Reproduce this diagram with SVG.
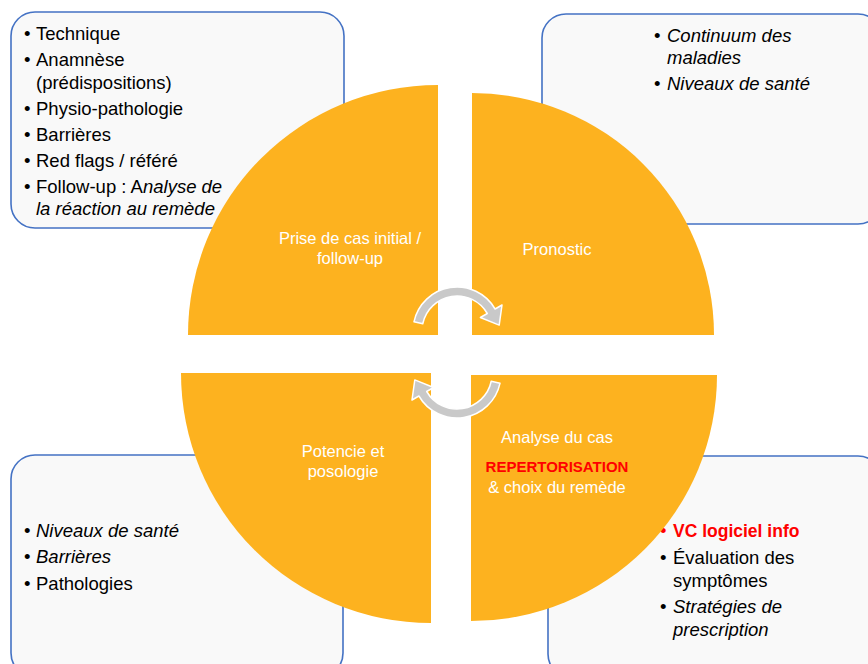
<svg xmlns="http://www.w3.org/2000/svg" width="868" height="664" viewBox="0 0 868 664">
<style>
.box{fill:#F9F9F9;stroke:#4472C4;stroke-width:1.6}
.bt{font-family:"Liberation Sans",Arial,sans-serif;font-size:18.5px;fill:#000}
.it{font-style:italic}
.q{fill:#FDB21F}
.qt{font-family:"Liberation Sans",Arial,sans-serif;font-size:16.5px;fill:#FFFFFF;text-anchor:middle}
.arr{fill:#C9C9C9;stroke:#FFFFFF;stroke-width:1.5;stroke-linejoin:round}
</style>
<rect width="868" height="664" fill="#FFFFFF"/>

<g id="box-tl">
<rect class="box" x="11" y="12" width="333" height="216" rx="24"/>
<text class="bt" x="24" y="39.5">•</text><text class="bt" x="36" y="39.5">Technique</text>
<text class="bt" x="24" y="66">•</text><text class="bt" x="36" y="66">Anamnèse</text>
<text class="bt" x="36" y="88.5">(prédispositions)</text>
<text class="bt" x="24" y="114.5">•</text><text class="bt" x="36" y="114.5">Physio-pathologie</text>
<text class="bt" x="24" y="140.5">•</text><text class="bt" x="36" y="140.5">Barrières</text>
<text class="bt" x="24" y="166.5">•</text><text class="bt" x="36" y="166.5">Red flags / référé</text>
<text class="bt" x="24" y="192.5">•</text><text class="bt" x="36" y="192.5">Follow-up : A<tspan class="it">nalyse de</tspan></text>
<text class="bt it" x="36" y="215">la réaction au remède</text>
</g>

<g id="box-tr">
<rect class="box" x="542" y="14" width="340" height="210" rx="24"/>
<text class="bt" x="654" y="42">•</text><text class="bt it" x="667" y="42">Continuum des</text>
<text class="bt it" x="667" y="64">maladies</text>
<text class="bt" x="654" y="90">•</text><text class="bt it" x="667" y="90">Niveaux de santé</text>
</g>

<g id="box-bl">
<rect class="box" x="11" y="455" width="332" height="222" rx="24"/>
<text class="bt" x="24" y="537">•</text><text class="bt it" x="36" y="537">Niveaux de santé</text>
<text class="bt" x="24" y="563">•</text><text class="bt it" x="36" y="563">Barrières</text>
<text class="bt" x="24" y="590">•</text><text class="bt" x="36" y="590">Pathologies</text>
</g>

<g id="box-br">
<rect class="box" x="548" y="456" width="334" height="222" rx="24"/>
<text class="bt" x="660" y="537" fill="#FF0000" style="fill:#FF0000">•</text><text class="bt" x="673" y="537" style="fill:#FF0000;font-weight:bold;font-size:17.5px">VC logiciel info</text>
<text class="bt" x="660" y="564">•</text><text class="bt" x="673" y="564">Évaluation des</text>
<text class="bt" x="673" y="587">symptômes</text>
<text class="bt" x="660" y="613">•</text><text class="bt it" x="673" y="613">Stratégies de</text>
<text class="bt it" x="673" y="636">prescription</text>
</g>

<g id="q-tl">
<path class="q" d="M438,335 L188,335 A250,250 0 0 1 438,85 Z"/>
<text class="qt" x="350" y="244">Prise de cas initial /</text>
<text class="qt" x="350" y="264">follow-up</text>
</g>

<g id="q-tr">
<path class="q" d="M472,335 L472,93 A242,242 0 0 1 714,335 Z"/>
<text class="qt" x="557" y="255">Pronostic</text>
</g>

<g id="q-bl">
<path class="q" d="M431,373 L431,623 A250,250 0 0 1 181,373 Z"/>
<text class="qt" x="343" y="457">Potencie et</text>
<text class="qt" x="343" y="477">posologie</text>
</g>

<g id="q-br">
<path class="q" d="M471,375 L717,375 A246,246 0 0 1 471,621 Z"/>
<text class="qt" x="557" y="443">Analyse du cas</text>
<text class="qt" x="557" y="472" style="fill:#FF0000;font-weight:bold;font-size:15px">REPERTORISATION</text>
<text class="qt" x="557" y="493">&amp; choix du remède</text>
</g>

<g id="connectors">
<path class="arr" d="M413.96,321.85 A44,44 0 0 1 495.1,309 L502,305 L499.2,325.1 L480.4,317.5 L487.3,313.5 A35,35 0 0 0 422.76,323.72 Z"/>
<path class="arr" d="M500.04,383.15 A44,44 0 0 1 418.9,396 L412,400 L414.8,379.9 L433.6,387.5 L426.7,391.5 A35,35 0 0 0 491.24,381.28 Z"/>
</g>
</svg>
